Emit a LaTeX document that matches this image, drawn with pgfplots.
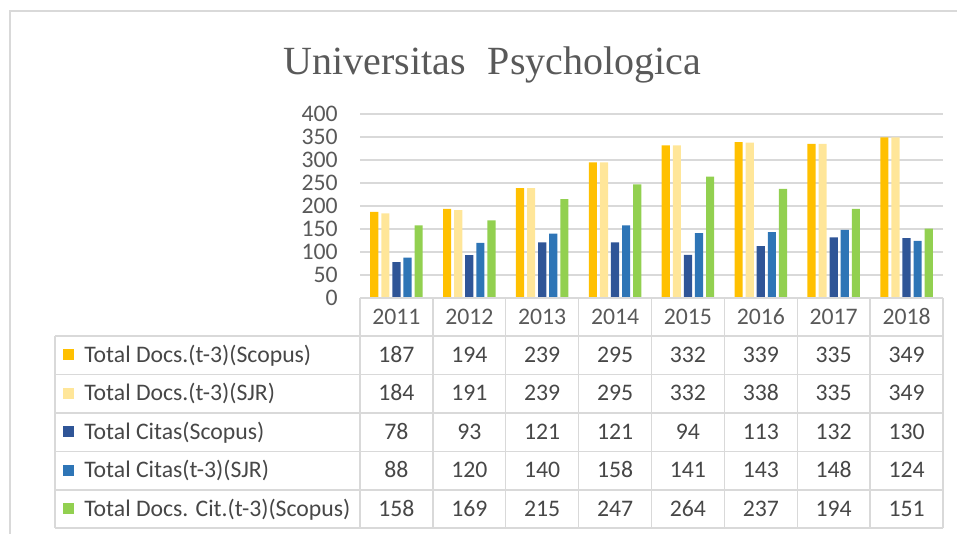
\documentclass[border=0pt]{standalone}
\usepackage{pgfplots}
\pgfplotsset{compat=1.18}
\usepackage{pgfplotstable}
\usepackage{fontspec}
\setmainfont{Carlito}
\newfontfamily\titlefont{Liberation Serif}
\definecolor{cA}{HTML}{FFC000}
\definecolor{cB}{HTML}{FFE699}
\definecolor{cC}{HTML}{2F5597}
\definecolor{cD}{HTML}{2E75B6}
\definecolor{cE}{HTML}{92D050}
\definecolor{txt}{HTML}{595959}
\definecolor{ttxt}{HTML}{474747}
\definecolor{grd}{HTML}{D9D9D9}
\newcommand\tabfont{\fontsize{17.8}{20}\selectfont}

\pgfplotstableread{
x s1 s2 s3 s4 s5
0 187 184 78 88 158
1 194 191 93 120 169
2 239 239 121 140 215
3 295 295 121 158 247
4 332 332 94 141 264
5 339 338 113 143 237
6 335 335 132 148 194
7 349 349 130 124 151
}\data

\begin{document}
\begin{tikzpicture}[x=0.75pt,y=0.75pt]
\useasboundingbox (0,0) rectangle (957,534);
% outer frame
\draw[grd, line width=1.2pt] (10,0) -- (10,523) -- (957,523);
% title
\node[anchor=base, inner sep=0pt, text=txt, font=\titlefont\fontsize{30}{36}\selectfont] at (492.5,459) {Universitas\hspace{0.3em} Psychologica};

\begin{axis}[
  at={(270pt,177pt)}, anchor=south west,
  scale only axis, width=437.25pt, height=138pt,
  xmin=-0.5, xmax=7.5, ymin=0, ymax=400,
  ybar=2.2pt, bar width=6.1pt,
  axis line style={draw=none},
  ymajorgrids, grid style={grd, line width=1.1pt},
  ytick={0,50,...,400},
  xtick=data, xticklabels={2011,2012,2013,2014,2015,2016,2017,2018},
  major tick length=0pt, tick style={draw=none},
  /pgf/number format/assume math mode=true,
  tick label style={font=\tabfont, text=txt},
  yticklabel style={inner sep=0pt, anchor=east, xshift=-16.5pt},
  xticklabel style={inner sep=0pt, anchor=base, yshift=-19.9pt},
  clip=false,
]
\addplot[fill=cA, draw=none] table[x=x,y=s1]{\data};
\addplot[fill=cB, draw=none] table[x=x,y=s2]{\data};
\addplot[fill=cC, draw=none] table[x=x,y=s3]{\data};
\addplot[fill=cD, draw=none] table[x=x,y=s4]{\data};
\addplot[fill=cE, draw=none] table[x=x,y=s5]{\data};
\end{axis}

% data table grid
\begin{scope}[grd, line width=1.1pt]
\draw (360,236) -- (943,236);
\foreach \yy in {336,374.5,413,451.5,490,528} \draw (55,534-\yy) -- (943,534-\yy);
\foreach \k in {0,...,8} \draw ({360+72.875*\k},236) -- ({360+72.875*\k},6);
\draw (55,198) -- (55,6);
\end{scope}

% legend keys and labels
\foreach \col/\lab [count=\i from 0] in {cA/{Total Docs.(t-3)(Scopus)}, cB/{Total Docs.(t-3)(SJR)}, cC/{Total Citas(Scopus)}, cD/{Total Citas(t-3)(SJR)}, cE/{Total Docs. Cit.(t-3)(Scopus)}} {
  \fill[\col] (63,{534-(355+38.4*\i)-5.5}) rectangle (74,{534-(355+38.4*\i)+5.5});
  \node[anchor=base west, inner sep=0pt, text=ttxt, font=\tabfont] at (84,{534-(355+38.4*\i)-7.5}) {\lab};
}

% table numbers
\foreach \c [count=\i from 0] in {s1,s2,s3,s4,s5} {
  \foreach \r in {0,...,7} {
    \pgfplotstablegetelem{\r}{\c}\of\data
    \node[anchor=base, inner sep=0pt, text=ttxt, font=\tabfont] at ({360+72.875*(\r+0.5)},{534-(355+38.4*\i)-7.5}) {\pgfplotsretval};
  }
}
\end{tikzpicture}
\end{document}
